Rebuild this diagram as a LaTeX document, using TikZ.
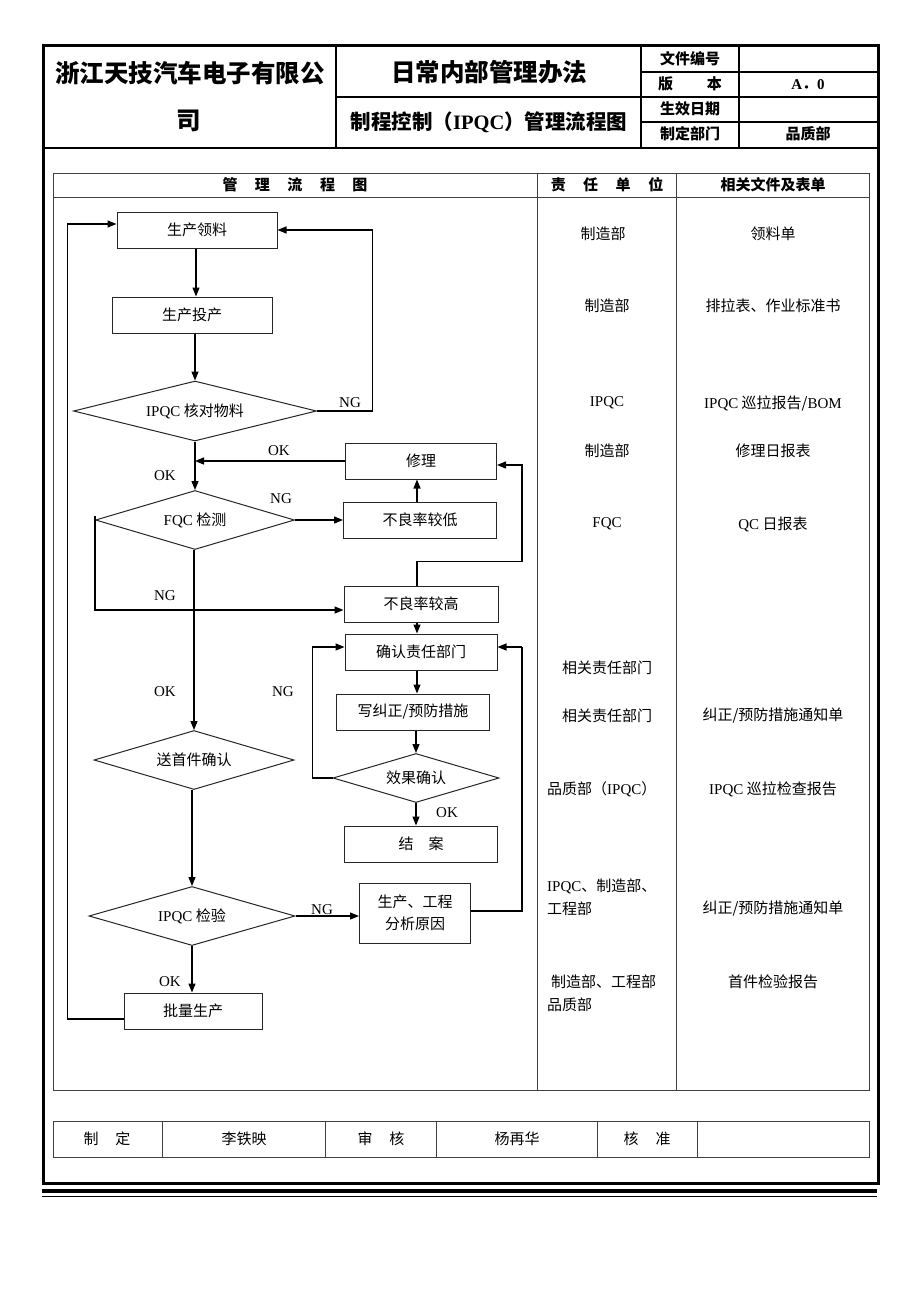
\documentclass[tikz,border=0pt]{standalone}
\usepackage{fontspec}
\setmainfont{Liberation Serif}
\newfontfamily\cjk{Noto Sans CJK SC}
\usetikzlibrary{shapes.geometric,arrows.meta,calc}
\newcommand\latn[1]{{\rmfamily #1}}
\begin{document}
\begin{tikzpicture}[x=1pt,y=-1pt,
  every node/.style={inner sep=0pt},
  txt/.style={font=\cjk\fontsize{15}{21}\selectfont},
  hd/.style={font=\cjk\bfseries\fontsize{15}{18}\selectfont},
  box/.style={draw=black!85, line width=1pt, minimum height=36pt, font=\cjk\fontsize{15}{22}\selectfont, align=center},
  dia/.style={draw=black!85, diamond, aspect=4, line width=1pt, font=\cjk\fontsize{15}{18}\selectfont},
  arr/.style={line width=1.3pt, -{Triangle[length=9pt,width=7pt]}},
  ln/.style={line width=1.3pt},
  lbl/.style={font=\rmfamily\fontsize{15}{18}\selectfont},
  tbl/.style={draw=black!75, line width=1pt},
]
\useasboundingbox (0,0) rectangle (920,1302);
\fill[white] (0,0) rectangle (920,1302);

% ---------------- header frame ----------------
\draw[line width=3pt] (43,45) rectangle (878,1183);
\draw[line width=1.2pt] (43,148) -- (878,148);
\draw[line width=1.2pt] (336,45) -- (336,148);
\draw[line width=1.2pt] (641,45) -- (641,148);
\draw[line width=1.2pt] (739,45) -- (739,148);
\draw[line width=1.2pt] (336,97) -- (641,97);
\draw[line width=1.2pt] (641,72) -- (878,72);
\draw[line width=1.2pt] (641,97) -- (878,97);
\draw[line width=1.2pt] (641,122) -- (878,122);

\node[font=\cjk\bfseries\fontsize{24.5}{28}\selectfont] (co1) at (190,73) {浙江天技汽车电子有限公};
\node[font=\cjk\bfseries\fontsize{24.5}{28}\selectfont] (co2) at (189,121) {司};
\node[font=\cjk\bfseries\fontsize{24.5}{28}\selectfont] (t1) at (489,72) {日常内部管理办法};
\node[font=\cjk\bfseries\fontsize{20.5}{24}\selectfont] (t2) at (489,122) {制程控制（\latn{IPQC}）管理流程图};
\node[hd] (h1) at (690,59) {文件编号};
\node[hd] (h2) at (690,84) {版\hspace{34pt}本};
\node[hd] (h3) at (690,109) {生效日期};
\node[hd] (h4) at (690,134) {制定部门};
\node[hd] (h5) at (808,85) {\latn{A}．\latn{0}};
\node[hd] (h6) at (808,134) {品质部};

% ---------------- main table ----------------
\draw[tbl] (53,173) rectangle (869,1090);
\draw[tbl] (53,197) -- (869,197);
\draw[tbl] (537,173) -- (537,1090);
\draw[tbl] (676,173) -- (676,1090);
\node[hd] (c1) at (295,185) {管\hspace{17.5pt}理\hspace{17.5pt}流\hspace{17.5pt}程\hspace{17.5pt}图};
\node[hd] (c2) at (607,185) {责\hspace{17.5pt}任\hspace{17.5pt}单\hspace{17.5pt}位};
\node[hd] (c3) at (773,185) {相关文件及表单};

% ---------------- flowchart nodes ----------------
\coordinate (ax) at (417,0);
\coordinate (rx) at (522,0);

\node[box, minimum width=160pt] (lingliao) at (197,230) {生产领料};
\node[box, minimum width=160pt] (touchan) at (192,315) {生产投产};
\node[dia, minimum width=243pt, minimum height=60pt] (hedui) at (195,411) {\latn{IPQC} 核对物料};
\node[box, minimum width=151pt] (xiuli) at (421,461) {修理};
\node[dia, minimum width=199pt, minimum height=59pt] (fqc) at (195,520) {\latn{FQC} 检测};
\node[box, minimum width=153pt] (dilow) at (420,520) {不良率较低};
\node[box, minimum width=154pt] (gao) at (421,604) {不良率较高};
\node[box, minimum width=152pt] (queren) at (421,652) {确认责任部门};
\node[box, minimum width=153pt] (xie) at (413,712) {写纠正/预防措施};
\node[dia, minimum width=166pt, minimum height=49pt] (xiaoguo) at (416,778) {效果确认};
\node[box, minimum width=153pt] (jiean) at (421,844) {结\hspace{15pt}案};
\node[dia, minimum width=200pt, minimum height=59pt] (songjian) at (194,760) {送首件确认};
\node[dia, minimum width=206pt, minimum height=59pt] (ipqcjy) at (192,916) {\latn{IPQC} 检验};
\node[box, minimum width=111pt, minimum height=60pt] (fenxi) at (415,913) {生产、工程\\分析原因};
\node[box, minimum width=138pt] (piliang) at (193,1011) {批量生产};

\coordinate (qe) at ([yshift=5pt]queren.east);
\coordinate (qw) at ([yshift=5pt]queren.west);

% ---------------- connectors ----------------
\draw[arr] (lingliao.south -| 196,0) -- (touchan.north -| 196,0);
\draw[arr] (touchan.south -| hedui.north) -- (hedui.north);
\draw[arr] (hedui.east) -| ([xshift=95pt]lingliao.east) -- (lingliao.east);
\node[lbl] (ng1) at (350,403) {NG};
\draw[arr] (hedui.south) -- (fqc.north);
\node[lbl] (ok1) at (165,476) {OK};
\draw[arr] (xiuli.west) -- (xiuli.west -| hedui.south);
\node[lbl] (ok2) at (279,451) {OK};
\draw[arr] (fqc.east) -- (dilow.west);
\node[lbl] (ng2) at (281,499) {NG};
\draw[arr] (dilow.north -| ax) -- (xiuli.south -| ax);
\draw[arr] ([yshift=4pt]fqc.west) -- ([yshift=-6pt]gao.west -| fqc.west) -- ([yshift=-6pt]gao.west);
\node[lbl] (ng3) at (165,596) {NG};
\draw[arr] (gao.north -| ax) -- ++(0,-24) -| ([yshift=-4pt]xiuli.east -| rx) -- ([yshift=-4pt]xiuli.east);
\draw[arr] (gao.south -| ax) -- (queren.north -| ax);
\draw[arr] (queren.south -| ax) -- (xie.north -| ax);
\draw[arr] (xie.south -| xiaoguo.north) -- (xiaoguo.north);
\draw[arr] (xiaoguo.west) -- ++(-20,0) |- (qw);
\node[lbl] (ng4) at (283,692) {NG};
\draw[arr] (xiaoguo.south) -- (xiaoguo.south |- jiean.north);
\node[lbl] (ok3) at (447,813) {OK};
\draw[arr] (fqc.south -| songjian.north) -- (songjian.north);
\node[lbl] (ok4) at (165,692) {OK};
\draw[arr] (songjian.south -| ipqcjy.north) -- (ipqcjy.north);
\draw[arr] (ipqcjy.east) -- (ipqcjy.east -| fenxi.west);
\node[lbl] (ng5) at (322,910) {NG};
\draw[ln] ([yshift=2pt]fenxi.east) -| (qe -| rx);
\draw[arr] (qe -| rx) -- (qe);
\draw[arr] (ipqcjy.south) -- (ipqcjy.south |- piliang.north);
\node[lbl] (ok5) at (170,982) {OK};
\draw[arr] ([yshift=-8pt]piliang.west) -- ++(-56,0) |- ([yshift=6pt]lingliao.west);

% ---------------- right columns ----------------
\node[txt] (r1a) at (603,234) {制造部};
\node[txt] (r1b) at (773,234) {领料单};
\node[txt] (r2a) at (607,306) {制造部};
\node[txt] (r2b) at (773,306) {排拉表、作业标准书};
\node[txt] (r3a) at (607,403) {\latn{IPQC}};
\node[txt] (r3b) at (773,403) {\latn{IPQC} 巡拉报告/\latn{BOM}};
\node[txt] (r4a) at (607,451) {制造部};
\node[txt] (r4b) at (773,451) {修理日报表};
\node[txt] (r5a) at (607,524) {\latn{FQC}};
\node[txt] (r5b) at (773,524) {\latn{QC} 日报表};
\node[txt] (r6a) at (607,668) {相关责任部门};
\node[txt] (r7a) at (607,716) {相关责任部门};
\node[txt] (r7b) at (773,716) {纠正/预防措施通知单};
\node[txt, anchor=west] (r8a) at (547,789) {品质部（\latn{IPQC}）};
\node[txt] (r8b) at (773,789) {\latn{IPQC} 巡拉检查报告};
\node[txt, anchor=west] (r9a) at (547,886) {\latn{IPQC}、制造部、};
\node[txt, anchor=west] (r9c) at (547,909) {工程部};
\node[txt] (r9b) at (773,909) {纠正/预防措施通知单};
\node[txt, anchor=west] (r10a) at (551,982) {制造部、工程部};
\node[txt, anchor=west] (r10c) at (547,1005) {品质部};
\node[txt] (r10b) at (773,982) {首件检验报告};

% ---------------- footer table ----------------
\draw[tbl] (53,1121) rectangle (869,1157);
\foreach \xx in {162,325,436,597,697} \draw[tbl] (\xx,1121) -- (\xx,1157);
\node[txt] (f1) at (107,1139) {制\hspace{17pt}定};
\node[txt] (f2) at (244,1139) {李铁映};
\node[txt] (f3) at (381,1139) {审\hspace{17pt}核};
\node[txt] (f4) at (517,1139) {杨再华};
\node[txt] (f5) at (647,1139) {核\hspace{17pt}准};

% ---------------- bottom rule ----------------
\draw[line width=4pt] (42,1191) -- (877,1191);
\draw[line width=1pt] (42,1196.5) -- (877,1196.5);
\end{tikzpicture}
\end{document}
